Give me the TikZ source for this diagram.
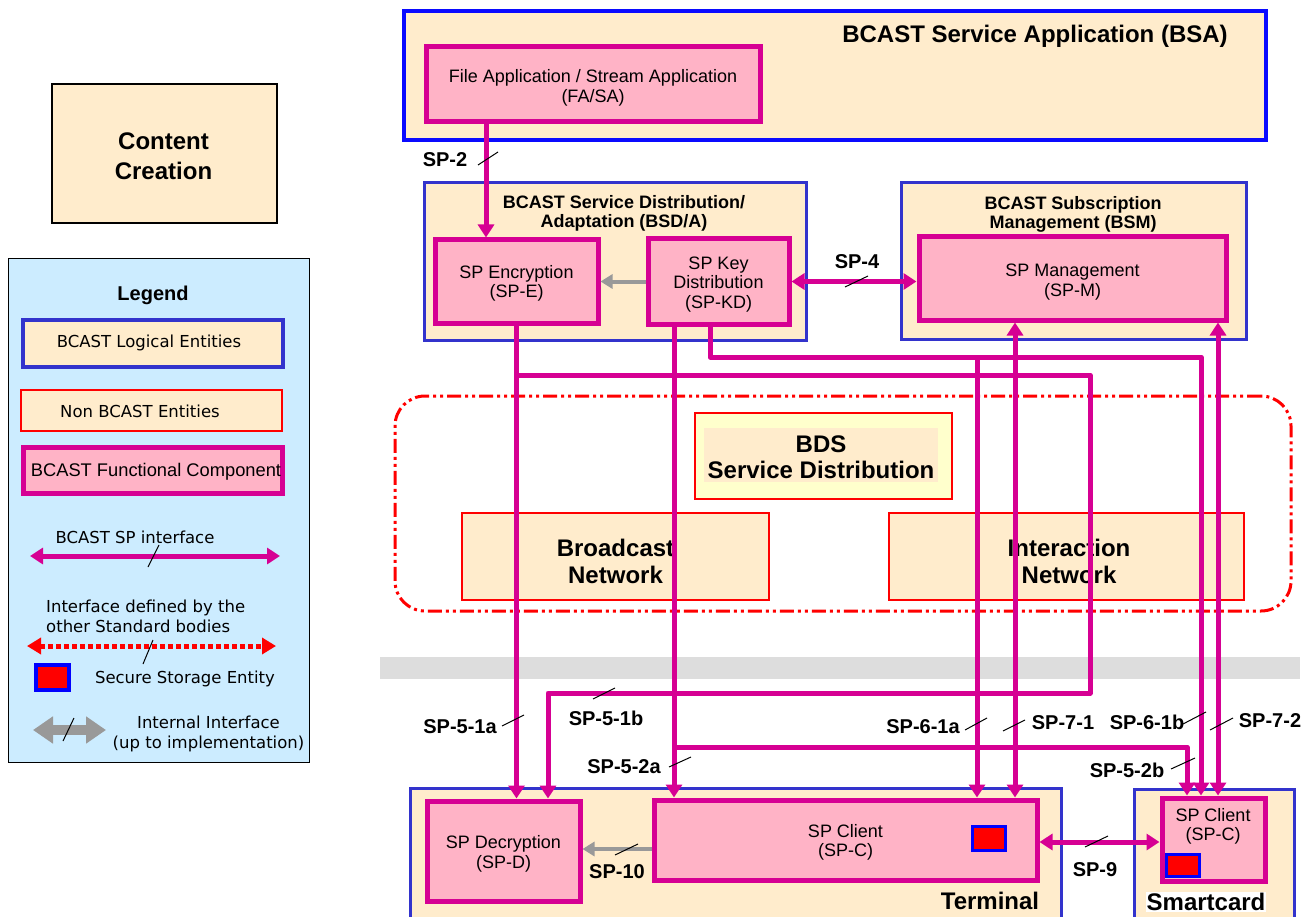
\documentclass[tikz,border=0pt]{standalone}
\usepackage{fontspec}
\setmainfont{Liberation Sans}
\newfontfamily\vfont{DejaVu Sans}
\usetikzlibrary{arrows.meta}
\definecolor{wheat}{RGB}{255,236,204}
\definecolor{pinkc}{RGB}{255,179,198}
\definecolor{mag}{RGB}{214,0,147}
\definecolor{lblue}{RGB}{51,51,204}
\definecolor{bsablue}{RGB}{10,10,255}
\definecolor{legblue}{RGB}{204,236,255}
\definecolor{greyc}{RGB}{153,153,153}
\definecolor{bandgrey}{RGB}{221,221,221}
\definecolor{bdsy}{RGB}{255,255,204}
\newcommand\fsz[2]{\fontsize{#1pt}{#2pt}\selectfont}
\begin{document}
\begin{tikzpicture}[x=1pt,y=-1pt,
  logical/.style={draw=lblue, line width=3pt, fill=wheat, inner sep=0pt},
  func/.style={draw=mag, line width=5pt, fill=pinkc, inner sep=0pt},
  ftext/.style={align=center, inner sep=0pt, font=\fsz{18}{19.5}},
  nonb/.style={draw=red, line width=1.5pt, fill=wheat, inner sep=0pt},
  sp/.style={draw=mag, line width=5pt, line join=round},
  tipm/.style={-{Triangle[width=16pt,length=13pt]}},
  dblm/.style={{Triangle[width=16pt,length=13pt]}-{Triangle[width=16pt,length=13pt]}},
  lbl/.style={font=\bfseries\fsz{20}{22}, inner sep=0pt},
  bigb/.style={font=\bfseries\fsz{24}{27}, align=center, inner sep=0pt},
  midb/.style={font=\bfseries\fsz{18}{19}, align=center, inner sep=0pt},
  vtext/.style={font=\vfont\fsz{16.5}{20}, inner sep=0pt},
  tick/.style={draw=black, line width=1pt},
  ssbox/.style={draw=blue, line width=3.5pt, fill=red, inner sep=0pt},
  greyarr/.style={draw=greyc, line width=4pt, -{Triangle[width=14pt,length=12pt]}}
]
\useasboundingbox (0,0) rectangle (1316,917);

% ---------- Content creation ----------
\node[draw=black, line width=1.5pt, fill=wheat, minimum width=225, minimum height=139, inner sep=0pt] (cc) at (164.5,153.5) {};
\node[bigb, font=\bfseries\fsz{24}{30}] (cct) at (163.5,156) {Content\\Creation};

% ---------- Legend ----------
\node[draw=black, line width=1.2pt, fill=legblue, minimum width=301, minimum height=504, anchor=north west] (leg) at (8,258) {};
\node[font=\bfseries\fsz{20}{22}] (legt) at (153,295) {Legend};
\node[logical, line width=3.5pt, minimum width=260, minimum height=47] (lg1) at (153,343.5) {};
\node[vtext] (lg1t) at (149,343) {BCAST Logical Entities};
\node[nonb, line width=2pt, minimum width=261, minimum height=41] (lg2) at (151.5,410.5) {};
\node[vtext] (lg2t) at (140,411) {Non BCAST Entities};
\node[func, minimum width=259, minimum height=46] (lg3) at (152.5,470) {};
\node[font=\fsz{18.3}{20}, inner sep=0pt] (lg3t) at (156,472) {BCAST Functional Component};
\node[vtext] (lg4t) at (135,537) {BCAST SP interface};
\coordinate (la1) at (30,556);
\coordinate (la2) at (280,556);
\draw[sp, dblm] (la1) -- (la2);
\draw[tick] (148,567) -- (159,545);
\node[vtext, align=left, anchor=west] (lg5t) at (46,616.5) {Interface defined by the\\other Standard bodies};
\coordinate (lb1) at (27,646);
\coordinate (lb2) at (276,646);
\draw[draw=red, line width=5pt, dash pattern=on 5pt off 3pt, {Triangle[width=16pt,length=14pt]}-{Triangle[width=16pt,length=14pt]}] (lb1) -- (lb2);
\draw[tick] (143,664) -- (153,640);
\node[ssbox, minimum width=33, minimum height=25] (lgss) at (52.5,677.5) {};
\node[vtext] (lg6t) at (185,678.5) {Secure Storage Entity};
\coordinate (lc1) at (33,730);
\coordinate (lc2) at (106,730);
\draw[draw=greyc, line width=10pt, {Triangle[width=26pt,length=20pt]}-{Triangle[width=26pt,length=20pt]}] (lc1) -- (lc2);
\draw[tick] (63,741) -- (74,718);
\node[vtext, align=center] (lg7t) at (208.5,733.5) {Internal Interface\\(up to implementation)};

% ---------- BSA ----------
\node[logical, draw=bsablue, line width=3.5pt, minimum width=862, minimum height=129] (bsa) at (835,75.5) {};
\node[bigb] (bsat) at (1035,36) {BCAST Service Application (BSA)};
\node[func, minimum width=334, minimum height=75] (fasa) at (593,84.5) {};
\node[ftext] (fasat) at (593,88) {File Application / Stream Application\\(FA/SA)};

% ---------- BSD/A ----------
\node[logical, minimum width=382, minimum height=157] (bsda) at (615,261.5) {};
\node[midb] (bsdat) at (624,213.5) {BCAST Service Distribution/\\Adaptation (BSD/A)};
\node[func, minimum width=163, minimum height=83] (spe) at (516.5,281.5) {};
\node[ftext] (spet) at (516.5,283.5) {SP Encryption\\(SP-E)};
\node[func, minimum width=141, minimum height=85] (spkd) at (718.5,281.5) {};
\node[ftext] (spkdt) at (718.5,284.5) {SP Key\\Distribution\\(SP-KD)};

% ---------- BSM ----------
\node[logical, minimum width=345, minimum height=156] (bsm) at (1073.5,261) {};
\node[midb] (bsmt) at (1073,214.5) {BCAST Subscription\\Management (BSM)};
\node[func, minimum width=307, minimum height=83] (spm) at (1072.5,278.5) {};
\node[ftext] (spmt) at (1072.5,282) {SP Management\\(SP-M)};

% ---------- BDS area ----------
\node[draw=red, line width=3pt, dash pattern=on 14pt off 4pt on 3pt off 4pt on 3pt off 4pt, rounded corners=30pt, minimum width=896, minimum height=215, inner sep=0pt] (cloud) at (843,503.5) {};
\node[nonb, fill=bdsy, minimum width=257, minimum height=86] (bds) at (823.5,456) {};
\node[fill=wheat, minimum width=234, minimum height=54, inner sep=0pt] (bdsin) at (821,455) {};
\node[bigb, font=\bfseries\fsz{24}{26}] (bdst) at (821,457) {BDS\\Service Distribution};
\node[nonb, minimum width=307, minimum height=87] (bcn) at (615.5,556.5) {};
\node[bigb] (bcnt) at (615.5,561) {Broadcast\\Network};
\node[nonb, minimum width=355, minimum height=87] (intn) at (1066.5,556.5) {};
\node[bigb] (intnt) at (1069,561) {Interaction\\Network};

% grey band
\fill[bandgrey] (380,657) rectangle (1300,679);

% ---------- Terminal ----------
\node[logical, minimum width=651, minimum height=150, anchor=north west] (term) at (409,787) {};
\node[func, minimum width=153, minimum height=100] (spd) at (503.5,851) {};
\node[ftext] (spdt) at (503.5,854) {SP Decryption\\(SP-D)};
\node[func, minimum width=383, minimum height=80] (spct) at (845.5,840) {};
\node[ftext] (spctt) at (845.5,842.5) {SP Client\\(SP-C)};
\node[ssbox, minimum width=33, minimum height=24] (ss1) at (989,838.5) {};
\node[bigb] (termt) at (990,901) {Terminal};

% ---------- Smartcard ----------
\node[logical, minimum width=160, minimum height=150, anchor=north west] (smart) at (1133,788) {};
\node[func, minimum width=103, minimum height=83] (spcs) at (1213.5,839.5) {};
\node[ftext] (spcst) at (1213,826.5) {SP Client\\(SP-C)};
\node[ssbox, minimum width=33, minimum height=22] (ss2) at (1183,865.5) {};
\node[bigb, fill=white, inner sep=1pt] (smartt) at (1206,902) {Smartcard};

% ---------- Connectors ----------
% internal (grey)
\draw[greyarr] (spkd.west) -- (spe.east);
\draw[greyarr] ([yshift=-9pt]spct.west) -- ([yshift=-9pt]spct.west -| spd.east);

% SP-2
\draw[sp, tipm] (fasa.south -| 486,0) -- (spe.north -| 486,0);
% SP-4
\draw[sp, dblm] (spkd.east) -- (spkd.east -| spm.west);
% SP-5-1a
\draw[sp, tipm] (spe.south) -- (spe.south |- spd.north);
% SP-5-1b
\coordinate (j1) at (spe.south |- 0,375);
\draw[sp, tipm] (j1) -| (1090,693) -| (spd.north -| 548,0);
% SP-5-2a
\draw[sp, tipm] (spkd.south -| 674,0) -- (spct.north -| 674,0);
% SP-5-2b
\coordinate (j2) at (674,747);
\draw[sp, tipm] (j2) -| (spcs.north -| 1187,0);
% SP-6-1b
\draw[sp, tipm] (spkd.south -| 710,0) |- (1201,357) -- (spcs.north -| 1201,0);
% SP-6-1a
\coordinate (j3) at (977,357);
\draw[sp, tipm] (j3) -- (spct.north -| 977,0);
% SP-7-1
\draw[sp, dblm] (spm.south -| 1015,0) -- (spct.north -| 1015,0);
% SP-7-2
\draw[sp, dblm] (spm.south -| 1218,0) -- (spcs.north -| 1218,0);
% SP-9
\draw[sp, dblm] ([yshift=-2pt]spct.east) -- ([yshift=-2pt]spct.east -| spcs.west);

% ---------- Interface labels and ticks ----------
\node[lbl] (l2) at (445,160) {SP-2};
\draw[tick] (478,165) -- (498,152);
\node[lbl] (l4) at (857,262) {SP-4};
\draw[tick] (845,287) -- (868,276);
\node[lbl] (l51a) at (460,727) {SP-5-1a};
\draw[tick] (502,726) -- (524,715);
\node[lbl] (l51b) at (606,718) {SP-5-1b};
\draw[tick] (593,699) -- (615,688);
\node[lbl] (l52a) at (624,767) {SP-5-2a};
\draw[tick] (669,767) -- (691,757);
\node[lbl] (l52b) at (1127,770) {SP-5-2b};
\draw[tick] (1171,769) -- (1195,758);
\node[lbl] (l61a) at (923,727) {SP-6-1a};
\draw[tick] (965,730) -- (987,718);
\node[lbl] (l71) at (1063,723) {SP-7-1};
\draw[tick] (1003,731) -- (1025,720);
\node[lbl] (l61b) at (1147,722) {SP-6-1b};
\draw[tick] (1183,724) -- (1206,712);
\node[lbl] (l72) at (1270,721) {SP-7-2};
\draw[tick] (1210,730) -- (1233,718);
\node[lbl] (l9) at (1095,870) {SP-9};
\draw[tick] (1085,847) -- (1108,836);
\node[lbl] (l10) at (617,872) {SP-10};
\draw[tick] (615,855) -- (638,844);
\end{tikzpicture}
\end{document}
